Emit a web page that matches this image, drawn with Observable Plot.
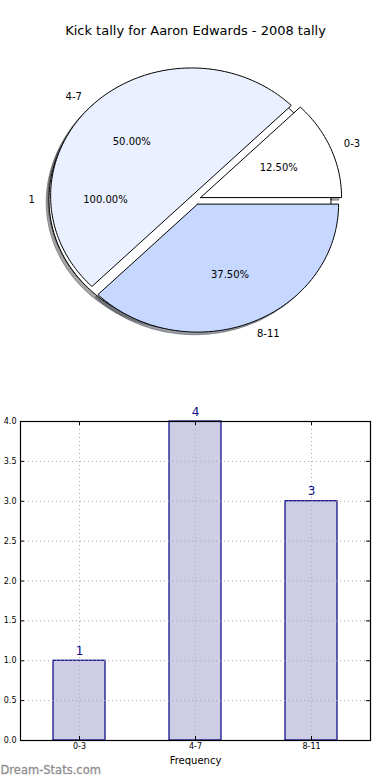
<!DOCTYPE html>
<html><head><meta charset="utf-8">
<script src="https://cdn.jsdelivr.net/npm/d3@7"></script>
<script src="https://cdn.jsdelivr.net/npm/@observablehq/plot@0.6"></script>
<style>
body{margin:0;background:#fff;font-family:"DejaVu Sans",sans-serif}
svg{display:block}
</style>
</head><body><div id="chart"></div>
<script>
// ---- data ----
const title = "Kick tally for Aaron Edwards - 2008 tally";
const categories = ["0-3", "4-7", "8-11"];
const counts = [1, 4, 3];
const sliceColors = ["#ffffff", "#eaf0ff", "#c6d8ff"];
const totalLabels = ["1"];
const totalCounts = [1];
const totalColors = ["#ffffff"];
const yTicks = [0, 0.5, 1, 1.5, 2, 2.5, 3, 3.5, 4];
const xLabel = "Frequency";
const watermark = "Dream-Stats.com";

// ---- pie geometry (matplotlib-like) ----
const EXPLODE = 0.039, SHADOW = 0.02, LABEL_R = 1.1, PCT_R = 0.6;
const CX = 195, CY = 199, RX = 141, RY = 128, PW = 390, PH = 390;

function pieWedges(labels, values, colors, key) {
  const total = d3.sum(values);
  let a = 0;
  return labels.map((label, i) => {
    const frac = values[i] / total;
    const t1 = a * 2 * Math.PI, t2 = (a + frac) * 2 * Math.PI;
    a += frac;
    const tm = (t1 + t2) / 2;
    const cx = EXPLODE * Math.cos(tm), cy = EXPLODE * Math.sin(tm);
    const n = Math.max(4, Math.ceil((t2 - t1) / (Math.PI / 120)));
    const full = frac >= 0.9999;
    const pts = [];
    if (!full) pts.push([cx, cy]);
    for (let k = 0; k <= n; k++) {
      const t = t1 + (t2 - t1) * k / n;
      pts.push([cx + Math.cos(t), cy + Math.sin(t)]);
    }
    if (!full) pts.push([cx, cy]);
    const c = d3.rgb(colors[i]);
    const shade = d3.rgb(c.r * 0.3, c.g * 0.3, c.b * 0.3).formatHex();
    return {key: key + i, label, color: colors[i], shade, pct: (frac * 100).toFixed(2) + "%",
            tm, cx, cy, pts,
            lx: cx + LABEL_R * Math.cos(tm), ly: cy + LABEL_R * Math.sin(tm),
            px: cx + PCT_R * Math.cos(tm), py: cy + PCT_R * Math.sin(tm)};
  });
}

const bgPie = pieWedges(totalLabels, totalCounts, totalColors, "bg");
const mainPie = pieWedges(categories, counts, sliceColors, "m");
const allW = [...bgPie, ...mainPie];

const shadowMarks = allW.map(w => Plot.line(w.pts, {
  x: d => d[0] - SHADOW, y: d => d[1] - SHADOW, curve: "linear",
  fill: w.shade, fillOpacity: 0.5, stroke: w.shade, strokeOpacity: 0.5, strokeWidth: 1
}));
const wedgeMarks = allW.map(w => Plot.line(w.pts, {
  x: d => d[0], y: d => d[1], curve: "linear",
  fill: w.color, stroke: "#000", strokeWidth: 1, strokeLinejoin: "miter"
}));

const pie = Plot.plot({
  width: PW, height: PH,
  marginTop: 0, marginBottom: 0, marginLeft: 0, marginRight: 0,
  style: {fontFamily: "DejaVu Sans, sans-serif", fontSize: "10px", background: "#fff", color: "#000"},
  x: {domain: [-CX / RX, (PW - CX) / RX], range: [0, PW], axis: null},
  y: {domain: [(CY - PH) / RY, CY / RY], range: [PH, 0], axis: null},
  marks: [
    ...shadowMarks,
    ...wedgeMarks,
    Plot.text(allW.filter(w => Math.cos(w.tm) > 0), {x: "lx", y: "ly", text: "label", textAnchor: "start", fontSize: 10, fill: "#000"}),
    Plot.text(allW.filter(w => Math.cos(w.tm) <= 0), {x: "lx", y: "ly", text: "label", textAnchor: "end", fontSize: 10, fill: "#000"}),
    Plot.text(allW, {x: "px", y: "py", text: "pct", textAnchor: "middle", fontSize: 10, fill: "#000"}),
    Plot.text([title], {frameAnchor: "top", text: d => d, dy: 30, lineAnchor: "middle", fontSize: 13, fill: "#000"})
  ]
});

// ---- bar chart ----
const barData = categories.map((c, i) => ({cat: c, count: counts[i]}));
const BW = 390, BH = 390, MT = 31, MB = 40, ML = 20, MR = 20;
const plotW = BW - ML - MR, plotH = BH - MT - MB;
const gridStyle = {stroke: "#aaaaaa", strokeOpacity: 1, strokeDasharray: "1,3", strokeWidth: 1};

const bars = Plot.plot({
  width: BW, height: BH,
  marginTop: MT, marginBottom: MB, marginLeft: ML, marginRight: MR,
  style: {fontFamily: "DejaVu Sans, sans-serif", fontSize: "8px", background: "#fff", color: "#000"},
  x: {domain: categories, paddingInner: 0.555, paddingOuter: 0.2775, label: null},
  y: {domain: [0, 4], label: null},
  marks: [
    Plot.barY(barData, {x: "cat", y: "count", fill: "#cdcde5", stroke: "#00007f", strokeWidth: 1.2}),
    Plot.gridY(yTicks, gridStyle),
    Plot.gridX(categories, gridStyle),
    Plot.tickY(yTicks, {y: d => d, insetRight: plotW - 4, stroke: "#000"}),
    Plot.tickY(yTicks, {y: d => d, insetLeft: plotW - 4, stroke: "#000"}),
    Plot.tickX(categories, {x: d => d, insetTop: plotH - 4, stroke: "#000"}),
    Plot.tickX(categories, {x: d => d, insetBottom: plotH - 4, stroke: "#000"}),
    Plot.frame({stroke: "#000", strokeWidth: 1.2}),
    Plot.axisY(yTicks, {anchor: "left", tickSize: 0, tickPadding: 4, tickFormat: d => d.toFixed(1), label: null, fontSize: 8}),
    Plot.axisX({anchor: "bottom", tickSize: 0, tickPadding: 3, label: null, fontSize: 8}),
    Plot.text(barData, {x: "cat", y: "count", text: d => String(d.count), dy: -6, lineAnchor: "bottom", fontSize: 12, fill: "#0c0c90"}),
    Plot.text([xLabel], {frameAnchor: "bottom", text: d => d, dy: 20, lineAnchor: "middle", fontSize: 10, fill: "#000"}),
    Plot.text([watermark], {frameAnchor: "bottom-left", text: d => d, dx: -ML, dy: 30, textAnchor: "start", lineAnchor: "middle", fontSize: 11.5, fill: "#8f8f8f", fontWeight: "normal", stroke: "#8f8f8f", strokeWidth: 0.3})
  ]
});

const root = document.getElementById("chart");
root.appendChild(pie);
root.appendChild(bars);
</script>
</body></html>
